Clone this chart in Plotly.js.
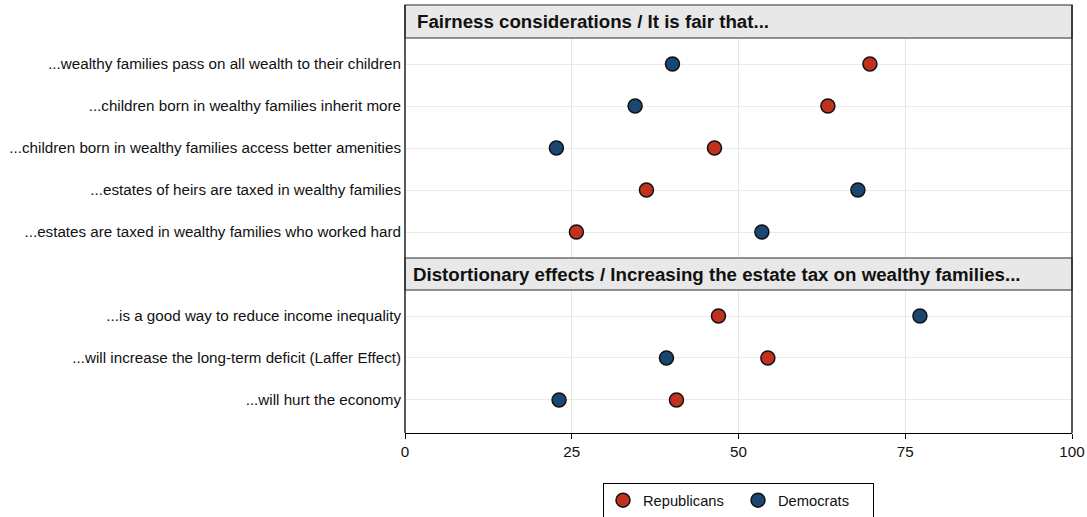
<!DOCTYPE html>
<html>
<head>
<meta charset="utf-8">
<script src="https://cdn.plot.ly/plotly-3.0.1.min.js"></script>
<style>html,body{margin:0;padding:0;background:#fff;}#chart{width:1087px;height:517px;}</style>
</head>
<body>
<div id="chart"></div>
<script>
// ---- data ----
const panel1Title = "Fairness considerations / It is fair that...";
const panel2Title = "Distortionary effects / Increasing the estate tax on wealthy families...";
const panel1Items = [
  "...wealthy families pass on all wealth to their children",
  "...children born in wealthy families inherit more",
  "...children born in wealthy families access better amenities",
  "...estates of heirs are taxed in wealthy families",
  "...estates are taxed in wealthy families who worked hard"
];
const panel1Republicans = [69.7, 63.4, 46.4, 36.2, 25.7];
const panel1Democrats = [40.1, 34.5, 22.7, 67.9, 53.5];
const panel2Items = [
  "...is a good way to reduce income inequality",
  "...will increase the long-term deficit (Laffer Effect)",
  "...will hurt the economy"
];
const panel2Republicans = [47.0, 54.4, 40.7];
const panel2Democrats = [77.2, 39.2, 23.1];
const seriesNames = ["Republicans", "Democrats"];
const xTicks = [0, 25, 50, 75, 100];

// ---- styles ----
const repColor = "#c0321f";
const demColor = "#1b4670";
const fontFam = "Liberation Sans, Arial, sans-serif";
const mk = c => ({color: c, size: 14, line: {color: "#111", width: 1.5}});

const traces = [
  {x: panel1Republicans, y: panel1Items, type: "scatter", mode: "markers", name: seriesNames[0],
   legendgroup: "r", marker: mk(repColor), xaxis: "x", yaxis: "y2"},
  {x: panel1Democrats, y: panel1Items, type: "scatter", mode: "markers", name: seriesNames[1],
   legendgroup: "d", marker: mk(demColor), xaxis: "x", yaxis: "y2"},
  {x: panel2Republicans, y: panel2Items, type: "scatter", mode: "markers", name: seriesNames[0],
   legendgroup: "r", showlegend: false, marker: mk(repColor), xaxis: "x", yaxis: "y"},
  {x: panel2Democrats, y: panel2Items, type: "scatter", mode: "markers", name: seriesNames[1],
   legendgroup: "d", showlegend: false, marker: mk(demColor), xaxis: "x", yaxis: "y"}
];

const H = 428;
const d2 = [0, 143 / H];
const h2 = [143 / H, 175 / H];
const d1 = [175 / H, 395 / H];
const h1 = [395 / H, 1];

const labelFont = {size: 15.2, family: fontFam, color: "#111"};

const layout = {
  width: 1087, height: 517,
  margin: {l: 405, r: 15, t: 5, b: 84, autoexpand: false},
  paper_bgcolor: "#fff", plot_bgcolor: "#fff",
  font: {family: fontFam, size: 15, color: "#111"},
  showlegend: true,
  legend: {orientation: "h", x: 0.5, xanchor: "center", y: -0.117, yanchor: "top",
           bordercolor: "#000", borderwidth: 1, font: {size: 14.7, family: fontFam, color: "#111"},
           itemwidth: 30, tracegroupgap: 0, entrywidth: 90, entrywidthmode: "pixels"},
  xaxis: {range: [0, 100], tickvals: xTicks, ticktext: xTicks.map(String), anchor: "y",
          showgrid: true, gridcolor: "#e6e6e6", gridwidth: 1, zeroline: false,
          showline: true, linecolor: "#000", linewidth: 1.2, ticks: "outside", ticklen: 5,
          tickcolor: "#000", automargin: false, tickfont: {size: 15.2, family: fontFam, color: "#111"}},
  yaxis: {domain: d2, type: "category", categoryorder: "array", categoryarray: panel2Items,
          range: [2.786, -0.619], showgrid: true, gridcolor: "#ebebeb", zeroline: false,
          showline: false, ticks: "", anchor: "x", ticklabelstandoff: 3, automargin: false,
          tickfont: labelFont},
  yaxis2: {domain: d1, type: "category", categoryorder: "array", categoryarray: panel1Items,
           range: [4.619, -0.619], showgrid: true, gridcolor: "#ebebeb", zeroline: false,
           showline: false, ticks: "", anchor: "x", ticklabelstandoff: 3, automargin: false,
           tickfont: labelFont},
  shapes: [
    {type: "rect", xref: "paper", yref: "paper", x0: 0, x1: 1, y0: h1[0], y1: h1[1],
     fillcolor: "#e8e8e8", line: {color: "#6e6e6e", width: 1.5}, layer: "above"},
    {type: "rect", xref: "paper", yref: "paper", x0: 0, x1: 1, y0: h2[0], y1: h2[1],
     fillcolor: "#e8e8e8", line: {color: "#6e6e6e", width: 1.5}, layer: "above"},
    {type: "line", xref: "paper", yref: "paper", x0: 0, x1: 0, y0: 0, y1: 1,
     line: {color: "#222", width: 1.5}, layer: "above"},
    {type: "line", xref: "paper", yref: "paper", x0: 1, x1: 1, y0: 0, y1: 1,
     line: {color: "#222", width: 1.5}, layer: "above"}
  ],
  annotations: [
    {xref: "paper", yref: "paper", x: 0, y: (h1[0] + h1[1]) / 2, xanchor: "left", yanchor: "middle",
     xshift: 10, text: "<b>" + panel1Title + "</b>", showarrow: false,
     font: {size: 18.7, family: fontFam, color: "#111"}},
    {xref: "paper", yref: "paper", x: 0, y: (h2[0] + h2[1]) / 2, xanchor: "left", yanchor: "middle",
     xshift: 6, text: "<b>" + panel2Title + "</b>", showarrow: false,
     font: {size: 18.7, family: fontFam, color: "#111"}}
  ]
};

Plotly.newPlot("chart", traces, layout, {displayModeBar: false, staticPlot: true});
</script>
</body>
</html>
